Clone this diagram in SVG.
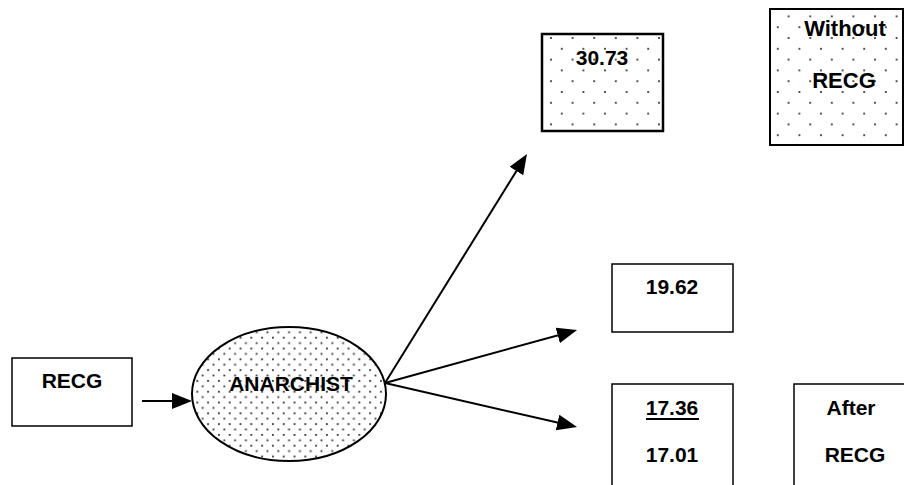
<svg xmlns="http://www.w3.org/2000/svg" width="904" height="485" viewBox="0 0 904 485">
<style>
text{font-family:"Liberation Sans",Arial,sans-serif;font-weight:bold;font-size:21px;fill:#000;text-anchor:middle}
.box{stroke:#000;stroke-width:1.5}
.conn{stroke:#000;stroke-width:2;fill:none;marker-end:url(#ah)}
.dot{fill:#333}
</style>
<defs>
<pattern id="dotsBox" patternUnits="userSpaceOnUse" width="21.6" height="21.6" x="551" y="38">
<rect class="dot" x="-0.9" y="-0.9" width="1.8" height="1.8"/>
<rect class="dot" x="20.7" y="-0.9" width="1.8" height="1.8"/>
<rect class="dot" x="-0.9" y="20.7" width="1.8" height="1.8"/>
<rect class="dot" x="20.7" y="20.7" width="1.8" height="1.8"/>
<rect class="dot" x="9.9" y="9.9" width="1.8" height="1.8"/>
</pattern>
<pattern id="dotsEll" patternUnits="userSpaceOnUse" width="10.8" height="10.8" x="0" y="0">
<rect class="dot" x="2" y="2" width="1.8" height="1.8"/>
<rect class="dot" x="7.4" y="7.4" width="1.8" height="1.8"/>
</pattern>
<marker id="ah" markerUnits="userSpaceOnUse" markerWidth="20" markerHeight="16" refX="10" refY="8" orient="auto">
<path d="M0,0 L20,8 L0,16 z" fill="#000"/>
</marker>
</defs>
<g id="connectors">
<line class="conn" x1="142" y1="401" x2="182" y2="401"/>
<line class="conn" x1="385" y1="383" x2="521.7" y2="162.5"/>
<line class="conn" x1="385" y1="383" x2="567.4" y2="332.7"/>
<line class="conn" x1="385" y1="383" x2="567.3" y2="424.8"/>
</g>
<g id="recg">
<rect class="box" x="12" y="358" width="120" height="68" fill="#fff"/>
<text x="72" y="388">RECG</text>
</g>
<g id="anarchist">
<ellipse cx="289" cy="394" rx="97" ry="67" fill="url(#dotsEll)" stroke="#000" stroke-width="2"/>
<text x="291" y="391">ANARCHIST</text>
</g>
<g id="n3073">
<rect x="542" y="34" width="121" height="97" fill="url(#dotsBox)" stroke="#000" stroke-width="2.5"/>
<text x="602" y="65">30.73</text>
</g>
<g id="without">
<rect x="770" y="9" width="133" height="136" fill="url(#dotsBox)" stroke="#000" stroke-width="2"/>
<text x="845" y="36" style="font-size:22px">Without</text>
<text x="844" y="88" style="font-size:22px">RECG</text>
</g>
<g id="n1962">
<rect class="box" x="612" y="264" width="121" height="68" fill="#fff"/>
<text x="672" y="294">19.62</text>
</g>
<g id="n1736">
<rect class="box" x="612" y="384" width="121" height="110" fill="#fff"/>
<text x="672" y="415">17.36</text>
<line x1="646" y1="419" x2="699" y2="419" stroke="#000" stroke-width="2"/>
<text x="672" y="462">17.01</text>
</g>
<g id="after">
<rect class="box" x="794" y="384" width="121" height="110" fill="#fff"/>
<text x="851" y="415">After</text>
<text x="855" y="462">RECG</text>
</g>
</svg>
